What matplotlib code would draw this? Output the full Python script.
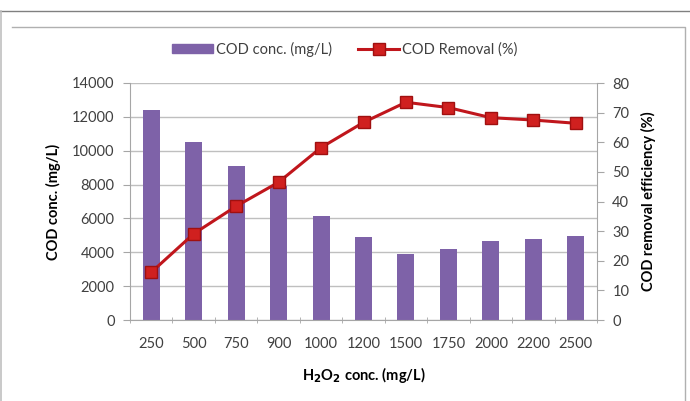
import matplotlib
matplotlib.use("Agg")
import matplotlib.pyplot as plt
from matplotlib.lines import Line2D
import numpy as np

categories = ["250", "500", "750", "900", "1000", "1200", "1500", "1750", "2000", "2200", "2500"]
cod_conc = [12400, 10500, 9100, 7900, 6150, 4880, 3920, 4200, 4670, 4780, 4980]
cod_removal = [16.1, 29.1, 38.4, 46.5, 58.2, 66.7, 73.5, 71.7, 68.3, 67.5, 66.4]

plt.rcParams['font.family'] = ['Lato', 'DejaVu Sans']
txt = '#404040'
grid_c = '#BFBFBF'
axis_c = '#A6A6A6'

fig = plt.figure(figsize=(6.9, 4.01), dpi=100)
ax = fig.add_axes([130/690, 1-320/401, (597-130)/690, (320-83)/401])
x = np.arange(len(categories))
ax.bar(x, cod_conc, width=0.4, color='#7E62A8', zorder=2, label='COD conc. (mg/L)')
ax.set_xlim(-0.5, len(categories)-0.5)
ax.set_ylim(0, 14000)
ax.set_yticks(np.arange(0, 14001, 2000))
ax.yaxis.grid(True, color=grid_c, linewidth=1)
ax.set_axisbelow(True)
for s in ['top', 'right']:
    ax.spines[s].set_visible(False)
ax.spines['left'].set_color(axis_c)
ax.spines['bottom'].set_color(axis_c)
ax.set_xticks(x)
ax.set_xticklabels(categories)
ax.set_xticks(np.arange(-0.5, len(categories), 1), minor=True)
ax.tick_params(axis='x', which='major', length=0, pad=12, labelsize=10.5, labelcolor=txt)
ax.tick_params(axis='x', which='minor', length=5, direction='inout', color=axis_c)
ax.tick_params(axis='y', length=5, color=axis_c, labelsize=10.5, labelcolor=txt, pad=6)
ax.set_ylabel('COD conc. (mg/L)', fontsize=10.5, fontweight='bold', color='black', labelpad=8)
ax.set_xlabel('H$_\\mathbf{2}$O$_\\mathbf{2}$ conc. (mg/L)', fontsize=10.5, fontweight='bold', color='black', labelpad=10)

ax2 = ax.twinx()
ax2.plot(x, cod_removal, color='#C0161C', linewidth=2.2, marker='s', markersize=9,
         markerfacecolor='#D0201F', markeredgecolor='#A01010', zorder=3, label='COD Removal (%)')
ax2.set_ylim(0, 80)
ax2.set_yticks(np.arange(0, 81, 10))
for s in ['top', 'left', 'bottom']:
    ax2.spines[s].set_visible(False)
ax2.spines['right'].set_color(axis_c)
ax2.tick_params(axis='y', length=5, color=axis_c, labelsize=10.5, labelcolor=txt, pad=6)
ax2.set_ylabel('COD removal efficiency (%)', fontsize=10.5, fontweight='bold', color='black', labelpad=8)

handles = [plt.Rectangle((0, 0), 1, 1, color='#7E62A8'),
           Line2D([0], [0], color='#C0161C', linewidth=2.2, marker='s', markersize=9,
                  markerfacecolor='#D0201F', markeredgecolor='#A01010')]
fig.legend(handles, ['COD conc. (mg/L)', 'COD Removal (%)'], loc='center',
           bbox_to_anchor=(345/690, 1-49/401), ncol=2, frameon=False, fontsize=10.5,
           handlelength=2.8, handleheight=0.6, columnspacing=1.8, handletextpad=0.2,
           labelcolor=txt)

# frames
fig.add_artist(Line2D([0, 1], [1-11/401, 1-11/401], color='#808080', linewidth=1, transform=fig.transFigure))
fig.add_artist(Line2D([1/690, 1/690], [0, 1-11/401], color='#C0C0C0', linewidth=1.2, transform=fig.transFigure))
fig.add_artist(Line2D([12/690, 685/690, 685/690], [1-27/401, 1-27/401, 0], color='#B0B0B0', linewidth=1, transform=fig.transFigure))

fig.savefig('out.png', dpi=100)
